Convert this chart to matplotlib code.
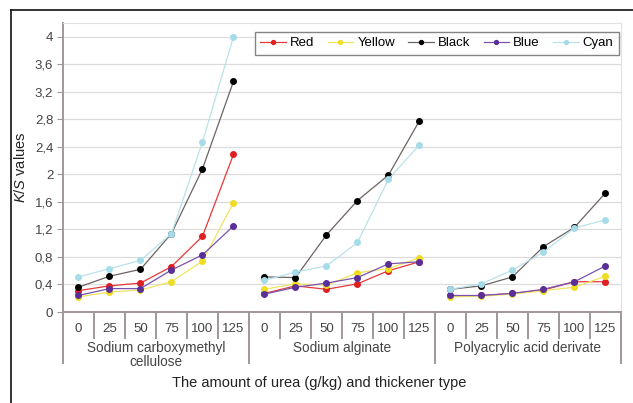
import matplotlib
matplotlib.use("Agg")
import matplotlib.pyplot as plt
from matplotlib.lines import Line2D
from matplotlib.transforms import blended_transform_factory

plt.rcParams["font.family"] = ["Liberation Sans", "DejaVu Sans"]
plt.rcParams["mathtext.fontset"] = "custom"
plt.rcParams["mathtext.rm"] = "Liberation Sans"
plt.rcParams["mathtext.it"] = "Liberation Sans:italic"

urea = ["0", "25", "50", "75", "100", "125"]
thickeners = ["Sodium carboxymethyl\ncellulose", "Sodium alginate", "Polyacrylic acid derivate"]

# K/S values per colour, one list of six per thickener
red = [[0.31, 0.38, 0.42, 0.66, 1.10, 2.29],
       [0.27, 0.38, 0.33, 0.41, 0.60, 0.73],
       [0.23, 0.24, 0.27, 0.32, 0.44, 0.44]]
yellow = [[0.22, 0.29, 0.32, 0.44, 0.74, 1.59],
          [0.33, 0.41, 0.39, 0.57, 0.63, 0.79],
          [0.22, 0.23, 0.26, 0.31, 0.36, 0.52]]
black = [[0.36, 0.52, 0.62, 1.14, 2.08, 3.35],
         [0.51, 0.50, 1.12, 1.62, 1.99, 2.78],
         [0.33, 0.38, 0.51, 0.95, 1.23, 1.73]]
blue = [[0.24, 0.34, 0.34, 0.61, 0.83, 1.25],
        [0.26, 0.36, 0.42, 0.50, 0.70, 0.73],
        [0.24, 0.24, 0.27, 0.33, 0.44, 0.67]]
cyan = [[0.51, 0.63, 0.75, 1.14, 2.47, 4.00],
        [0.46, 0.58, 0.67, 1.01, 1.93, 2.43],
        [0.33, 0.41, 0.61, 0.87, 1.22, 1.34]]

series = [("Red", red, "#e8383a", "#e02020"),
          ("Yellow", yellow, "#f0e464", "#eedd22"),
          ("Black", black, "#6e6262", "#000000"),
          ("Blue", blue, "#7a52b0", "#5a2f98"),
          ("Cyan", cyan, "#b8e2ec", "#a6dbe8")]

fig = plt.figure(figsize=(6.33, 4.03), dpi=100)
ax = fig.add_axes([0.0995, 0.2258, 0.8815, 0.7172])

n = len(urea)
for name, vals, lc, mc in series:
    for g, grp in enumerate(vals):
        xs = [g * n + i for i in range(n)]
        ax.plot(xs, grp, color=lc, lw=0.9, marker="o", ms=4,
                mfc=mc, mec=mc, label=name if g == 0 else None, zorder=3)

ax.set_xlim(-0.5, len(thickeners) * n - 0.5)
ax.set_ylim(0, 4.2)
yt = [0, 0.4, 0.8, 1.2, 1.6, 2, 2.4, 2.8, 3.2, 3.6, 4]
ax.set_yticks(yt)
ax.set_yticklabels([("%g" % v).replace(".", ",") for v in yt], fontsize=9.5, color="#444444")
ax.tick_params(axis="y", length=4, color="#a09898", pad=3)
ax.set_xticks([])
ax.grid(axis="y", color="#dcdcdc", lw=0.9)
ax.set_axisbelow(True)

for s in ["top", "right"]:
    ax.spines[s].set_color("#e2e2e2")
for s in ["left", "bottom"]:
    ax.spines[s].set_color("#a09898")
    ax.spines[s].set_linewidth(1.4)

# two-level category axis below the plot
tr = blended_transform_factory(ax.transData, ax.transAxes)
ntot = len(thickeners) * n
for k in range(ntot + 1):
    x = k - 0.5
    low = -0.176 if k % n == 0 else -0.09
    ax.add_line(Line2D([x, x], [0, low], transform=tr, color="#a09898",
                       lw=1.4, clip_on=False))
for g, name in enumerate(thickeners):
    for i, u in enumerate(urea):
        ax.text(g * n + i, -0.058, u, transform=tr, ha="center", va="center",
                fontsize=9.5, color="#444444")
    ax.text(g * n + (n - 1) / 2, -0.1, name, transform=tr, ha="center",
            va="top", fontsize=9.8, color="#444444", linespacing=1.0)

ax.set_ylabel("$K$/$S$ values", fontsize=10.5, color="#222222", labelpad=5)
fig.text(0.505, 0.05, "The amount of urea (g/kg) and thickener type",
         ha="center", va="center", fontsize=10.5, color="#222222")

leg = ax.legend(loc="upper right", bbox_to_anchor=(0.996, 0.969), ncol=5,
                fontsize=9.5, frameon=True, fancybox=False, handlelength=1.95,
                handletextpad=0.3, columnspacing=1.0, borderpad=0.4,
                borderaxespad=0, markerscale=0.7)
leg.get_frame().set_edgecolor("#666666")
leg.get_frame().set_linewidth(1.0)

# outer frame
fig.add_artist(Line2D([0.0174, 1.0], [0.975, 0.975], color="#111111", lw=1.2))
fig.add_artist(Line2D([0.0174, 0.0174], [0.0, 0.975], color="#111111", lw=1.2))

fig.savefig("out.png", dpi=100)
